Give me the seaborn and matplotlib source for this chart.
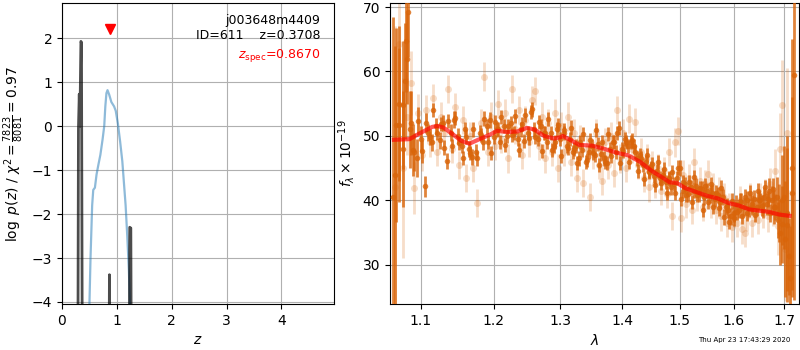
import matplotlib
matplotlib.use("Agg")
import matplotlib.pyplot as plt
import matplotlib.ticker as mticker
import seaborn as sns
import numpy as np
import pandas as pd

# ---------------- left panel: log p(z) ----------------
z_fit = [0.285, 0.300, 0.315, 0.325, 0.345, 0.355, 0.375, 0.850, 0.865, 0.875,
         1.220, 1.235, 1.255, 1.270]
logp_fit = [-8.0, -0.05, 0.73, 0.0, 1.93, 1.90, -8.0, -8.0, -3.38, -8.0,
            -8.0, -2.30, -2.32, -8.0]

z_phot = [0.49, 0.52, 0.55, 0.57, 0.60, 0.63, 0.66, 0.70, 0.74, 0.77, 0.79, 0.81,
          0.83, 0.86, 0.90, 0.95, 0.98, 1.02, 1.06, 1.10, 1.13, 1.16, 1.19, 1.22, 1.25]
logp_phot = [-4.6, -3.0, -1.8, -1.45, -1.40, -1.10, -0.90, -0.65, -0.30, 0.00, 0.45, 0.75,
             0.82, 0.72, 0.55, 0.45, 0.35, 0.05, -0.35, -0.80, -1.30, -1.80, -2.50, -3.30, -4.50]

z_spec = 0.8670
z_best = 0.3708
obj_name = "j003648m4409"
obj_id = 611

# ---------------- right panel: spectrum ----------------
wave_dark = [1.064, 1.068, 1.072, 1.076, 1.079, 1.081, 1.083, 1.086, 1.090, 1.095,
             1.100, 1.105, 1.110, 1.115, 1.120, 1.125, 1.130, 1.135, 1.140, 1.145,
             1.150, 1.155, 1.160, 1.165, 1.170, 1.175, 1.180, 1.185, 1.190, 1.195,
             1.200, 1.205, 1.210, 1.215, 1.220, 1.225, 1.230, 1.235, 1.240, 1.245,
             1.250, 1.255, 1.260, 1.265, 1.270, 1.275, 1.280, 1.285, 1.290, 1.295,
             1.300, 1.305, 1.310, 1.315, 1.320, 1.325, 1.330, 1.335, 1.340, 1.345,
             1.350, 1.355, 1.360, 1.365, 1.370, 1.375, 1.380, 1.385, 1.390, 1.395,
             1.400, 1.405, 1.410, 1.415, 1.420, 1.425, 1.430, 1.435, 1.440, 1.445,
             1.450, 1.455, 1.460, 1.465, 1.470, 1.475, 1.480, 1.485, 1.490, 1.495,
             1.500, 1.505, 1.510, 1.515, 1.520, 1.525, 1.530, 1.535, 1.540, 1.545,
             1.550, 1.555, 1.560, 1.565, 1.570, 1.575, 1.580, 1.585, 1.590, 1.595,
             1.600, 1.605, 1.610, 1.615, 1.620, 1.625, 1.630, 1.635, 1.640, 1.645,
             1.650, 1.655, 1.660, 1.665, 1.670, 1.675, 1.680, 1.685, 1.690, 1.695,
             1.700, 1.705, 1.710, 1.715, 1.720]
flux_dark = [40.5, 51.7, 51.7, 54.8, 58.5, 64.8, 69.3, 51.0, 47.8, 46.6,
             49.5, 42.2, 50.5, 49.0, 51.5, 49.3, 52.0, 46.1, 50.5, 52.5,
             50.0, 48.5, 51.0, 48.0, 46.7, 47.5, 50.5, 49.0, 51.5, 52.5,
             49.8, 51.0, 49.0, 51.5, 50.0, 52.0, 50.5, 49.5, 51.0, 49.2,
             50.5, 53.7, 51.0, 49.5, 51.5, 50.5, 49.0, 50.5, 48.5, 51.0,
             49.5, 50.5, 48.5, 49.5, 47.5, 48.5, 46.5, 47.8, 46.0, 47.5,
             48.5, 47.0, 48.8, 47.2, 46.5, 45.8, 48.0, 49.0, 47.5, 51.2,
             48.0, 49.5, 48.5, 49.0, 48.5, 46.5, 47.0, 45.5, 46.0, 44.5,
             45.0, 43.8, 44.5, 43.5, 44.0, 42.8, 43.5, 42.0, 42.5, 43.5,
             45.0, 41.5, 42.5, 41.0, 42.0, 41.5, 42.3, 41.0, 41.8, 40.5,
             41.5, 40.8, 41.2, 40.2, 40.8, 39.8, 40.5, 39.0, 38.5, 37.5,
             38.0, 39.5, 38.5, 39.8, 39.0, 40.0, 38.8, 39.5, 40.2, 39.0,
             40.0, 39.2, 40.5, 39.5, 41.5, 40.0, 39.0, 40.5, 38.0, 36.3,
             40.5, 36.2, 31.3, 41.1, 59.5]
err_dark = [28, 15, 12, 10, 9, 8, 7, 6, 4, 3,
            2.0, 1.6, 1.3, 1.3, 1.3, 1.3, 1.3, 1.3, 1.3, 1.3,
            1.2, 1.2, 1.2, 1.2, 1.2, 1.2, 1.2, 1.2, 1.2, 1.2,
            1.1, 1.1, 1.1, 1.1, 1.1, 1.1, 1.1, 1.1, 1.1, 1.1,
            1.1, 1.1, 1.1, 1.1, 1.1, 1.1, 1.1, 1.1, 1.1, 1.1,
            1.1, 1.1, 1.1, 1.1, 1.1, 1.1, 1.1, 1.1, 1.1, 1.1,
            1.1, 1.1, 1.1, 1.1, 1.1, 1.1, 1.1, 1.1, 1.1, 1.1,
            1.1, 1.1, 1.1, 1.1, 1.1, 1.1, 1.1, 1.1, 1.1, 1.1,
            1.1, 1.1, 1.1, 1.1, 1.1, 1.1, 1.1, 1.1, 1.1, 1.1,
            1.2, 1.2, 1.2, 1.2, 1.2, 1.2, 1.2, 1.2, 1.2, 1.2,
            1.2, 1.2, 1.2, 1.2, 1.2, 1.2, 1.2, 1.2, 1.3, 1.3,
            1.3, 1.3, 1.3, 1.3, 1.4, 1.4, 1.4, 1.4, 1.4, 1.5,
            1.5, 1.6, 1.6, 1.7, 1.9, 2.2, 2.6, 3.2, 4.5, 6.0,
            8.0, 12.0, 6.0, 15.0, 35.0]

wave_dark2 = [1.0665, 1.0715, 1.0765, 1.0815, 1.0865, 1.0915, 1.0965, 1.1015, 1.1065, 1.1115,
              1.1165, 1.1215, 1.1265, 1.1315, 1.1365, 1.1415, 1.1465, 1.1515, 1.1565, 1.1615,
              1.1665, 1.1715, 1.1765, 1.1815, 1.1865, 1.1915, 1.1965, 1.2015, 1.2065, 1.2115,
              1.2165, 1.2215, 1.2265, 1.2315, 1.2365, 1.2415, 1.2465, 1.2515, 1.2565, 1.2615,
              1.2665, 1.2715, 1.2765, 1.2815, 1.2865, 1.2915, 1.2965, 1.3015, 1.3065, 1.3115,
              1.3165, 1.3215, 1.3265, 1.3315, 1.3365, 1.3415, 1.3465, 1.3515, 1.3565, 1.3615,
              1.3665, 1.3715, 1.3765, 1.3815, 1.3865, 1.3915, 1.3965, 1.4015, 1.4065, 1.4115,
              1.4165, 1.4215, 1.4265, 1.4315, 1.4365, 1.4415, 1.4465, 1.4515, 1.4565, 1.4615,
              1.4665, 1.4715, 1.4765, 1.4815, 1.4865, 1.4915, 1.4965, 1.5015, 1.5065, 1.5115,
              1.5165, 1.5215, 1.5265, 1.5315, 1.5365, 1.5415, 1.5465, 1.5515, 1.5565, 1.5615,
              1.5665, 1.5715, 1.5765, 1.5815, 1.5865, 1.5915, 1.5965, 1.6015, 1.6065, 1.6115,
              1.6165, 1.6215, 1.6265, 1.6315, 1.6365, 1.6415, 1.6465, 1.6515, 1.6565, 1.6615,
              1.6665, 1.6715, 1.6765, 1.6815, 1.6865, 1.6915, 1.6965, 1.7015, 1.7065, 1.7115,
              1.7165]
flux_dark2 = [44.0, 55.0, 48.0, 62.0, 52.0, 47.5, 52.3, 47.6, 52.0, 49.8,
              54.0, 50.5, 51.9, 48.2, 52.3, 48.4, 52.8, 48.9, 46.6, 49.9,
              47.3, 51.0, 46.5, 50.1, 52.7, 49.1, 47.3, 52.1, 51.1, 52.9,
              48.6, 51.6, 50.1, 53.1, 47.8, 51.8, 53.2, 49.7, 54.1, 49.9,
              52.1, 47.7, 50.5, 52.6, 47.8, 49.1, 51.7, 46.9, 50.9, 48.1,
              51.3, 48.0, 45.8, 49.1, 50.3, 46.3, 49.3, 47.3, 50.9, 45.5,
              49.1, 46.0, 50.3, 46.9, 49.0, 50.4, 45.8, 47.7, 49.1, 46.0,
              49.3, 47.5, 44.6, 46.6, 43.3, 47.0, 44.4, 45.7, 42.4, 45.9,
              42.7, 44.9, 41.1, 43.3, 44.4, 41.1, 45.1, 40.2, 42.9, 40.9,
              42.9, 39.8, 43.6, 40.8, 41.9, 38.5, 42.3, 39.7, 42.6, 39.0,
              41.2, 38.8, 41.9, 37.4, 39.2, 36.7, 39.9, 37.3, 38.2, 39.9,
              37.5, 40.5, 38.0, 41.2, 39.0, 37.8, 41.5, 40.0, 38.5, 42.0,
              40.2, 38.0, 41.8, 39.0, 37.0, 35.0, 40.0, 34.0, 38.0, 28.0,
              45.0]
err_dark2 = [20, 12, 9, 7, 5, 3, 2.2, 1.8, 1.5, 1.2,
             1.1, 1.1, 1.1, 1.1, 1.1, 1.1, 1.1, 1.1, 1.1, 1.1,
             1.1, 1.1, 1.1, 1.1, 1.1, 1.1, 1.1, 1.1, 1.1, 1.1,
             1.1, 1.1, 1.1, 1.1, 1.1, 1.1, 1.1, 1.1, 1.1, 1.1,
             1.1, 1.1, 1.1, 1.1, 1.1, 1.1, 1.1, 1.1, 1.1, 1.1,
             1.1, 1.1, 1.1, 1.1, 1.1, 1.1, 1.1, 1.1, 1.1, 1.1,
             1.1, 1.1, 1.1, 1.1, 1.1, 1.1, 1.1, 1.1, 1.1, 1.1,
             1.1, 1.1, 1.1, 1.1, 1.1, 1.1, 1.1, 1.1, 1.1, 1.1,
             1.1, 1.1, 1.1, 1.1, 1.1, 1.1, 1.1, 1.1, 1.1, 1.1,
             1.1, 1.1, 1.1, 1.1, 1.1, 1.1, 1.1, 1.1, 1.1, 1.1,
             1.2, 1.2, 1.2, 1.2, 1.2, 1.2, 1.2, 1.2, 1.2, 1.2,
             1.2, 1.2, 1.2, 1.2, 1.2, 1.2, 1.2, 1.2, 1.2, 1.2,
             1.3, 1.4, 1.6, 2.0, 2.8, 5.0, 7.0, 9.0, 12.0, 8.0,
             20.0]

wave_light = [1.0665, 1.0715, 1.0765, 1.0815, 1.0865, 1.0915, 1.0965, 1.1015, 1.1065, 1.1115,
              1.1165, 1.1215, 1.1265, 1.1315, 1.1365, 1.1415, 1.1465, 1.1515, 1.1565, 1.1615,
              1.1665, 1.1715, 1.1765, 1.1815, 1.1865, 1.1915, 1.1965, 1.2015, 1.2065, 1.2115,
              1.2165, 1.2215, 1.2265, 1.2315, 1.2365, 1.2415, 1.2465, 1.2515, 1.2565, 1.2615,
              1.2665, 1.2715, 1.2765, 1.2815, 1.2865, 1.2915, 1.2965, 1.3015, 1.3065, 1.3115,
              1.3165, 1.3215, 1.3265, 1.3315, 1.3365, 1.3415, 1.3465, 1.3515, 1.3565, 1.3615,
              1.3665, 1.3715, 1.3765, 1.3815, 1.3865, 1.3915, 1.3965, 1.4015, 1.4065, 1.4115,
              1.4165, 1.4215, 1.4265, 1.4315, 1.4365, 1.4415, 1.4465, 1.4515, 1.4565, 1.4615,
              1.4665, 1.4715, 1.4765, 1.4815, 1.4865, 1.4915, 1.4965, 1.5015, 1.5065, 1.5115,
              1.5165, 1.5215, 1.5265, 1.5315, 1.5365, 1.5415, 1.5465, 1.5515, 1.5565, 1.5615,
              1.5665, 1.5715, 1.5765, 1.5815, 1.5865, 1.5915, 1.5965, 1.6015, 1.6065, 1.6115,
              1.6165, 1.6215, 1.6265, 1.6315, 1.6365, 1.6415, 1.6465, 1.6515, 1.6565, 1.6615,
              1.6665, 1.6715, 1.6765, 1.6815, 1.6865, 1.6915, 1.6965, 1.7015, 1.7065, 1.7115]
flux_light = [42.0, 64.2, 45.0, 53.0, 58.2, 41.9, 53.5, 47.0, 54.0, 49.0,
              55.9, 47.5, 53.0, 50.5, 57.3, 48.0, 54.5, 45.5, 52.5, 43.5,
              50.0, 45.0, 39.6, 52.0, 59.2, 47.5, 53.0, 48.5, 55.0, 49.5,
              53.5, 46.5, 57.3, 51.0, 54.0, 47.0, 52.5, 49.0, 55.5, 57.0,
              48.5, 53.0, 46.5, 52.0, 47.5, 53.5, 45.0, 51.5, 47.5, 53.0,
              46.0, 50.5, 43.5, 49.5, 42.7, 48.0, 40.5, 47.0, 50.5, 45.5,
              43.0, 49.0, 45.5, 50.0, 44.2, 54.0, 46.5, 50.5, 45.0, 52.7,
              48.0, 52.2, 45.5, 47.5, 43.5, 46.5, 42.0, 45.5, 42.5, 45.0,
              41.5, 44.5, 41.0, 47.5, 37.6, 49.0, 50.8, 37.3, 44.0, 39.5,
              43.5, 38.5, 46.0, 40.5, 43.0, 39.0, 42.5, 44.1, 39.5, 42.0,
              38.5, 41.5, 37.5, 40.5, 36.5, 39.0, 35.8, 38.0, 36.5, 40.0,
              35.5, 34.9, 37.5, 40.5, 36.5, 39.0, 37.0, 40.5, 38.0, 41.0,
              37.5, 42.5, 39.0, 44.5, 36.0, 48.0, 54.8, 32.4, 50.5, 29.6]
err_light = [25, 9, 14, 6, 5, 4, 3.0, 2.5, 2.3, 2.3,
             2.2, 2.2, 2.2, 2.2, 2.2, 2.2, 2.2, 2.2, 2.2, 2.2,
             2.2, 2.2, 2.2, 2.2, 2.2, 2.2, 2.2, 2.2, 2.2, 2.2,
             2.2, 2.2, 2.2, 2.2, 2.2, 2.2, 2.2, 2.2, 2.2, 2.2,
             2.2, 2.2, 2.2, 2.2, 2.2, 2.2, 2.2, 2.2, 2.2, 2.2,
             2.2, 2.2, 2.2, 2.2, 2.2, 2.2, 2.2, 2.2, 2.2, 2.2,
             2.2, 2.2, 2.2, 2.2, 2.2, 2.2, 2.2, 2.2, 2.2, 2.2,
             2.2, 2.2, 2.2, 2.2, 2.2, 2.2, 2.2, 2.2, 2.2, 2.2,
             2.2, 2.2, 2.2, 2.2, 2.2, 2.2, 2.2, 2.2, 2.2, 2.2,
             2.2, 2.2, 2.2, 2.2, 2.2, 2.2, 2.2, 2.2, 2.2, 2.2,
             2.2, 2.2, 2.2, 2.2, 2.2, 2.2, 2.2, 2.2, 2.2, 2.2,
             2.2, 2.2, 2.2, 2.2, 2.2, 2.2, 2.2, 2.2, 2.3, 2.3,
             2.4, 2.6, 3.0, 3.5, 4.5, 5.5, 7, 8, 10, 12]

wave_model = [1.065, 1.085, 1.100, 1.115, 1.122, 1.130, 1.140, 1.155, 1.166, 1.180,
              1.195, 1.205, 1.220, 1.235, 1.249, 1.260, 1.275, 1.290, 1.300, 1.304,
              1.315, 1.330, 1.350, 1.370, 1.390, 1.410, 1.430, 1.450, 1.470, 1.482,
              1.495, 1.510, 1.530, 1.550, 1.570, 1.590, 1.610, 1.630, 1.650, 1.670,
              1.690, 1.711]
flux_model = [49.4, 49.5, 50.5, 51.4, 51.55, 51.3, 50.5, 49.2, 48.8, 49.5,
              50.2, 50.8, 50.6, 50.7, 51.25, 51.0, 50.0, 49.6, 49.8, 50.0,
              49.4, 48.6, 48.5, 48.0, 47.4, 47.0, 46.0, 44.6, 43.5, 42.8,
              42.7, 41.9, 41.3, 40.7, 40.3, 39.6, 39.2, 38.6, 38.4, 38.2,
              37.8, 37.6]

wave_ticks = [1.1, 1.2, 1.3, 1.4, 1.5, 1.6, 1.7]
timestamp = "Thu Apr 23 17:43:29 2020"

# ---------------- figure ----------------
plt.rcParams['font.family'] = ['DejaVu Sans']
fig = plt.figure(figsize=(8, 3.5), dpi=100)
ax1 = fig.add_axes([0.0775, 0.131, 0.34, 0.86])
ax2 = fig.add_axes([0.4875, 0.131, 0.511, 0.86])

orange = '#d9650a'

# left
df_fit = pd.DataFrame({'z': z_fit, 'logp': logp_fit})
df_phot = pd.DataFrame({'z': z_phot, 'logp': logp_phot})
sns.lineplot(data=df_phot, x='z', y='logp', ax=ax1, color='tab:blue', alpha=0.5,
             lw=1.6, sort=False, estimator=None)
sns.lineplot(data=df_fit, x='z', y='logp', ax=ax1, color='k', alpha=0.7,
             lw=2.0, sort=False, estimator=None)
ax1.plot([z_spec], [2.22], marker='v', color='red', ms=7, ls='none')
ax1.set_xlim(0, 4.96)
ax1.set_ylim(-4.05, 2.8)
ax1.set_xticks([0, 1, 2, 3, 4])
ax1.set_yticks([-4, -3, -2, -1, 0, 1, 2])
ax1.grid(True, color='#b0b0b0', lw=0.8)
ax1.set_xlabel(r'$z$')
ax1.set_ylabel(r'$\log\ p(z)$ / $\chi^2=\frac{7823}{8081}=0.97$')
ax1.text(0.95, 0.944, obj_name, transform=ax1.transAxes, ha='right', va='center', fontsize=9)
ax1.text(0.95, 0.894, f'ID={obj_id}    z={z_best:.4f}', transform=ax1.transAxes,
         ha='right', va='center', fontsize=9)
ax1.text(0.95, 0.827, r'$z_\mathrm{spec}$=' + f'{z_spec:.4f}', transform=ax1.transAxes,
         ha='right', va='center', fontsize=9, color='red')

# right
ax2.errorbar(wave_light, flux_light, yerr=err_light, fmt='o', color=orange, alpha=0.22,
             ms=5, elinewidth=2, mew=0, capsize=0, zorder=2)
ax2.errorbar(wave_dark, flux_dark, yerr=err_dark, fmt='o', color=orange, alpha=0.8,
             ms=4, elinewidth=2.0, mew=0, capsize=0, zorder=3)
ax2.errorbar(wave_dark2, flux_dark2, yerr=err_dark2, fmt='o', color=orange, alpha=0.8,
             ms=4, elinewidth=2.0, mew=0, capsize=0, zorder=3)
df_model = pd.DataFrame({'wave': wave_model, 'flux': flux_model})
sns.lineplot(data=df_model, x='wave', y='flux', ax=ax2, color='red', alpha=0.65, lw=3,
             sort=False, estimator=None, zorder=4)
ax2.set_xscale('log')
ax2.set_xlim(1.06, 1.73)
ax2.set_ylim(23.9, 70.6)
ax2.xaxis.set_major_locator(mticker.FixedLocator(wave_ticks))
ax2.xaxis.set_major_formatter(mticker.FixedFormatter([f'{w:.1f}' for w in wave_ticks]))
ax2.xaxis.set_minor_locator(mticker.NullLocator())
ax2.set_yticks([30, 40, 50, 60, 70])
ax2.grid(True, color='#b0b0b0', lw=0.8)
ax2.set_xlabel(r'$\lambda$')
ax2.set_ylabel(r'$f_\lambda\times10^{-19}$')

fig.text(0.9875, 0.029, timestamp, ha='right', va='center', fontsize=5)

fig.savefig('out.png', dpi=100)
